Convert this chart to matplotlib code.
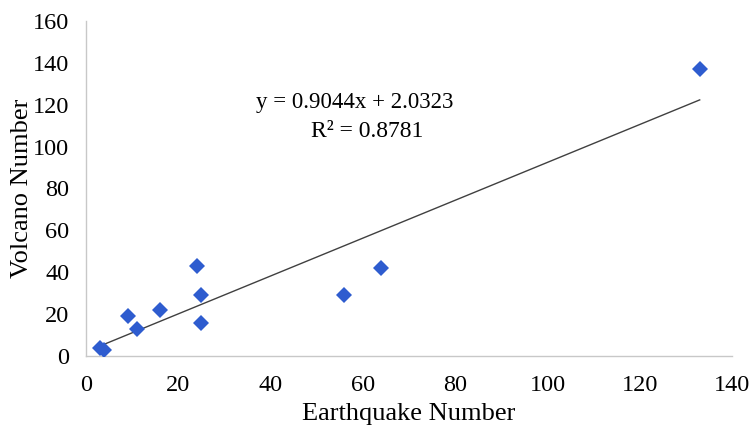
import matplotlib
matplotlib.use("Agg")
import matplotlib.pyplot as plt
import numpy as np

earthquake = [3, 4, 9, 11, 16, 24, 25, 25, 56, 64, 133]
volcano = [4, 3, 19, 13, 22, 43, 29, 16, 29, 42, 137]
slope = 0.9044
intercept = 2.0323
r2 = 0.8781
xticks = [0, 20, 40, 60, 80, 100, 120, 140]
yticks = [0, 20, 40, 60, 80, 100, 120, 140, 160]

plt.rcParams['font.family'] = ['Liberation Serif', 'DejaVu Serif']

fig = plt.figure(figsize=(7.55, 4.28), dpi=100)
ax = fig.add_axes([86/755, 1-356/428, (732-86)/755, (356-21)/428])

x = np.array(earthquake)
y = np.array(volcano)
xl = np.array([x.min(), x.max()])
ax.plot(xl, slope*xl + intercept, color='#404040', lw=1.0, zorder=2)
ax.plot(x, y, 'D', color='#2E5CCF', markersize=8, markeredgewidth=0, zorder=3)

ax.set_xlim(0, 140)
ax.set_ylim(0, 160)
ax.set_xticks(xticks)
ax.set_yticks(yticks)
ax.tick_params(axis='x', length=0, labelsize=17.5, pad=14)
ax.tick_params(axis='y', length=0, labelsize=17.5, pad=12)
for s in ['top', 'right']:
    ax.spines[s].set_visible(False)
for s in ['left', 'bottom']:
    ax.spines[s].set_color('#C8C8C8')
    ax.spines[s].set_linewidth(1.0)

ax.set_xlabel('Earthquake Number', fontsize=19, labelpad=5)
ax.set_ylabel('Volcano Number', fontsize=19, labelpad=0)

ax.text(58.3, 121, f'y = {slope}x + {intercept}', fontsize=16.5, ha='center', va='center')
ax.text(60.9, 107, f'R² = {r2}', fontsize=17, ha='center', va='center')

fig.savefig('out.png', dpi=100)
